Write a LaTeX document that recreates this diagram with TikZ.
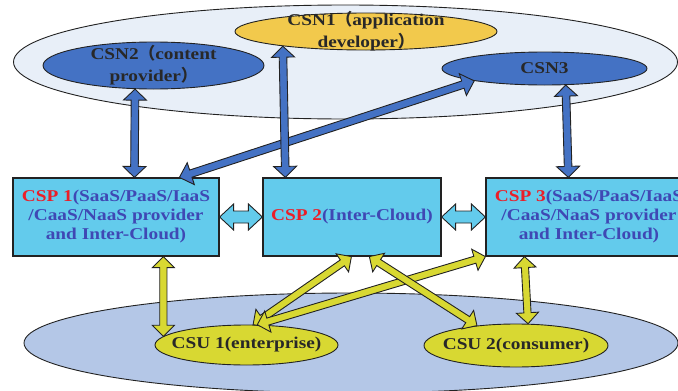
\documentclass[tikz,border=0pt]{standalone}
\usepackage{fontspec}
\setmainfont{Liberation Serif}[FakeStretch=1.17]
\newfontfamily\cjk{Noto Sans CJK SC}
\usetikzlibrary{calc,shapes.geometric}
\definecolor{cloudbg}{RGB}{232,239,248}
\definecolor{userbg}{RGB}{180,199,231}
\definecolor{csnblue}{RGB}{68,114,196}
\definecolor{csngold}{RGB}{242,201,76}
\definecolor{cspcyan}{RGB}{99,203,236}
\definecolor{csuyellow}{RGB}{216,216,50}
\definecolor{txtblue}{RGB}{63,72,180}
\definecolor{txtred}{RGB}{235,30,40}
\definecolor{edgecol}{RGB}{34,34,34}
\definecolor{csntext}{RGB}{40,40,40}
\newcommand\fatarrow[6]{%
  \filldraw[#1, draw=edgecol, line width=0.9pt, line join=miter]
  (#2) -- ($(#2)!#4!(#3)!#5!90:(#3)$) -- ($(#2)!#4!(#3)!#6!90:(#3)$)
  -- ($(#3)!#4!(#2)!#6!-90:(#2)$) -- ($(#3)!#4!(#2)!#5!-90:(#2)$)
  -- (#3) -- ($(#3)!#4!(#2)!#5!90:(#2)$) -- ($(#3)!#4!(#2)!#6!90:(#2)$)
  -- ($(#2)!#4!(#3)!#6!-90:(#3)$) -- ($(#2)!#4!(#3)!#5!-90:(#3)$) -- cycle;}
\begin{document}
\begin{tikzpicture}[x=1pt,y=-1pt,
  ell/.style={ellipse, draw=edgecol, line width=0.9pt, inner sep=0pt},
  txt/.style={font=\bfseries\fontsize{16.5}{22}\selectfont, text=csntext, align=center},
  cspbox/.style={rectangle, draw=edgecol, line width=1.2pt, fill=cspcyan, inner sep=0pt,
    align=center, font=\bfseries\fontsize{16.5}{19}\selectfont, text=txtblue},
  bluearr/.style={fill=csnblue}, yelarr/.style={fill=csuyellow}, cyanarr/.style={fill=cspcyan}]
\useasboundingbox (0,0) rectangle (678,391);
\clip (0,0) rectangle (678,391);
% background clouds
\node[ell, fill=cloudbg, minimum width=664pt, minimum height=114pt] (cloud) at (345.5,62) {};
\node[ell, fill=userbg, minimum width=654pt, minimum height=100pt] (users) at (351,343) {};
% CSN
\node[ell, fill=csngold, minimum width=262pt, minimum height=37pt,
  label={[txt]center:CSN1{\cjk （}application\\developer{\cjk ）}}] (csn1) at (366,31.5) {};
\node[ell, fill=csnblue, minimum width=221pt, minimum height=47pt,
  label={[txt]center:CSN2{\cjk （}content\\provider{\cjk ）}}] (csn2) at (153.5,65.5) {};
\node[ell, fill=csnblue, minimum width=205pt, minimum height=33pt,
  label={[txt]center:CSN3}] (csn3) at (544.5,68.5) {};
% CSP
\node[cspbox, minimum width=206pt, minimum height=78pt] (csp1) at (116,217)
  {\textcolor{txtred}{CSP 1}(SaaS/PaaS/IaaS\\/CaaS/NaaS provider\\and Inter-Cloud)};
\node[cspbox, minimum width=178pt, minimum height=78pt] (csp2) at (352,217)
  {\textcolor{txtred}{CSP 2}(Inter-Cloud)};
\node[cspbox, minimum width=206pt, minimum height=78pt] (csp3) at (589,217)
  {\textcolor{txtred}{CSP 3}(SaaS/PaaS/IaaS\\/CaaS/NaaS provider\\and Inter-Cloud)};
% CSU
\node[ell, fill=csuyellow, minimum width=183pt, minimum height=40pt,
  label={[txt]center:CSU 1(enterprise)}] (csu1) at (246.5,345) {};
\node[ell, fill=csuyellow, minimum width=184pt, minimum height=43pt,
  label={[txt]center:CSU 2(consumer)}] (csu2) at (516,345.5) {};
% connector end points
\coordinate (b1a) at (csn2.232);
\coordinate (b1b) at ([xshift=122pt]csp1.north west);
\coordinate (b2a) at (csn1.190);
\coordinate (b2b) at ([xshift=23pt]csp2.north west);
\coordinate (b3a) at (csn3.190);
\coordinate (b3b) at ([xshift=167pt]csp1.north west);
\coordinate (b4a) at (csn3.322);
\coordinate (b4b) at ([xshift=83pt]csp3.north west);
\coordinate (y1a) at ([xshift=151pt]csp1.south west);
\coordinate (y1b) at (csu1.174);
\coordinate (y2a) at ([xshift=89pt]csp2.south west);
\coordinate (y2b) at (csu1.72);
\coordinate (y3a) at (csp3.south west);
\coordinate (y3b) at (csu1.62);
\coordinate (y4a) at ([xshift=107pt]csp2.south west);
\coordinate (y4b) at (csu2.153);
\coordinate (y5a) at ([xshift=39pt]csp3.south west);
\coordinate (y5b) at (csu2.61);
% blue arrows
\fatarrow{bluearr}{b3a}{b3b}{12pt}{11.5pt}{3.8pt}
\fatarrow{bluearr}{b1a}{b1b}{11pt}{11.5pt}{3.8pt}
\fatarrow{bluearr}{b2a}{b2b}{11pt}{11.5pt}{3.8pt}
\fatarrow{bluearr}{b4a}{b4b}{11pt}{11.5pt}{3.8pt}
% horizontal arrows
\fatarrow{cyanarr}{csp1.east}{csp2.west}{14pt}{13pt}{6pt}
\fatarrow{cyanarr}{csp2.east}{csp3.west}{14pt}{13pt}{6pt}
% yellow arrows
\fatarrow{yelarr}{y1a}{y1b}{11pt}{11pt}{3.6pt}
\fatarrow{yelarr}{y2a}{y2b}{11pt}{11pt}{3.6pt}
\fatarrow{yelarr}{y3a}{y3b}{11pt}{11pt}{3.6pt}
\fatarrow{yelarr}{y4a}{y4b}{11pt}{11pt}{3.6pt}
\fatarrow{yelarr}{y5a}{y5b}{11pt}{11pt}{3.6pt}
\end{tikzpicture}
\end{document}
